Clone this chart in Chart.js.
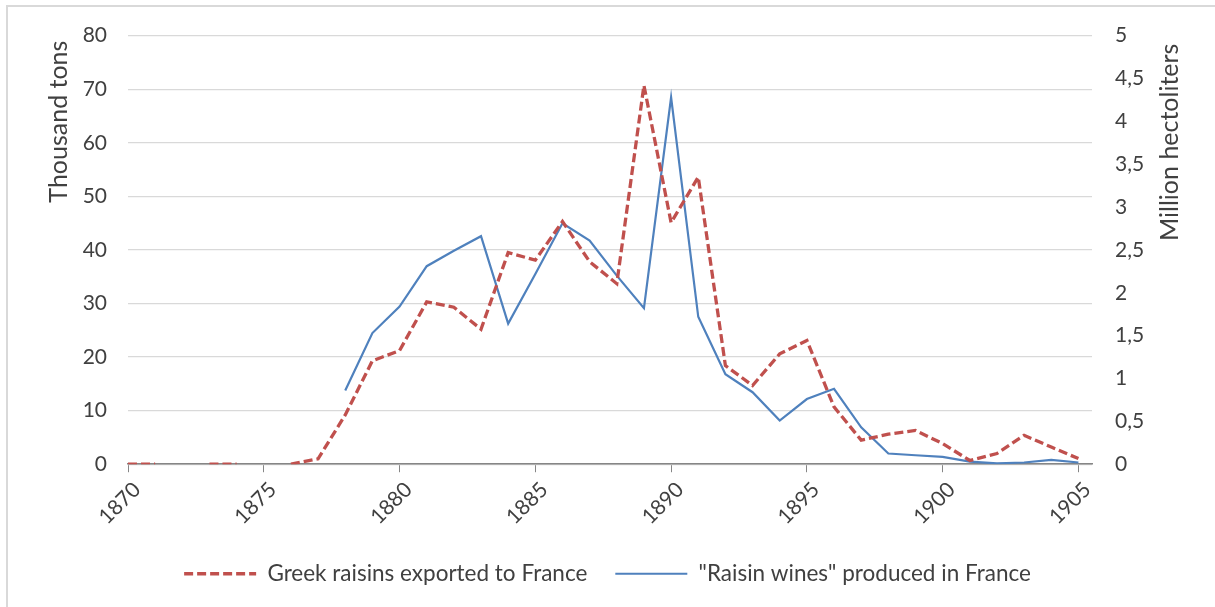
<!DOCTYPE html>
<html>
<head>
<meta charset="utf-8">
<script src="https://cdn.jsdelivr.net/npm/chart.js@4.4.0/dist/chart.umd.js"></script>
<style>
  html, body { margin: 0; padding: 0; background: #fff; overflow: hidden; }
  #wrap { position: relative; width: 1215px; height: 607px; }
  #frame { position: absolute; left: 6px; top: 5px; width: 1300px; height: 700px;
           border-left: 2px solid #d9d9d9; border-top: 2px solid #d9d9d9; pointer-events: none; }
  canvas { position: absolute; left: 0; top: 0; }
</style>
</head>
<body>
<div id="wrap">
  <canvas id="chart" width="1215" height="607"></canvas>
  <div id="frame"></div>
</div>
<script>
// Years on the x axis
const years = [1870, 1871, 1872, 1873, 1874, 1875, 1876, 1877, 1878, 1879,
  1880, 1881, 1882, 1883, 1884, 1885, 1886, 1887, 1888, 1889,
  1890, 1891, 1892, 1893, 1894, 1895, 1896, 1897, 1898, 1899,
  1900, 1901, 1902, 1903, 1904, 1905];

// Greek raisins exported to France (thousand tons, left axis)
const raisins = [0, 0, null, 0, 0, null, 0, 1, 9.2, 19.3,
  21.2, 30.3, 29.3, 25.2, 39.5, 38.1, 45.3, 37.8, 33.7, 70.7,
  45.1, 53.6, 18.4, 14.7, 20.6, 23.1, 10.7, 4.5, 5.6, 6.3,
  3.85, 0.7, 2.0, 5.4, 3.2, 1.05];

// "Raisin wines" produced in France (million hectoliters, right axis)
const wines = [null, null, null, null, null, null, null, null, 0.86, 1.53,
  1.84, 2.31, 2.49, 2.66, 1.64, 2.22, 2.81, 2.61, 2.2, 1.82,
  4.28, 1.72, 1.05, 0.84, 0.51, 0.76, 0.88, 0.43, 0.125, 0.105,
  0.085, 0.03, 0.01, 0.02, 0.05, 0.02];

// Tick labels
const xTicks = [1870, 1875, 1880, 1885, 1890, 1895, 1900, 1905];
const leftTicks = [0, 10, 20, 30, 40, 50, 60, 70, 80];
const rightTicks = [0, 0.5, 1, 1.5, 2, 2.5, 3, 3.5, 4, 4.5, 5];
const rightTickLabels = ['0', '0,5', '1', '1,5', '2', '2,5', '3', '3,5', '4', '4,5', '5'];

const leftTitle = 'Thousand tons';
const rightTitle = 'Million hectoliters';

const FONT = 'Lato, Calibri, "Liberation Sans", sans-serif';
const TEXT = '#404040';

// Axis titles read bottom-to-top on both sides, as in Excel
const axisTitles = {
  id: 'axisTitles',
  afterDraw(chart) {
    const { ctx, chartArea } = chart;
    const draw = (text, x, y) => {
      ctx.save();
      ctx.fillStyle = TEXT;
      ctx.font = '25px ' + FONT;
      ctx.textAlign = 'right';
      ctx.textBaseline = 'middle';
      ctx.translate(x, y);
      ctx.rotate(-Math.PI / 2);
      ctx.fillText(text, 0, 0);
      ctx.restore();
    };
    draw(leftTitle, 59, chartArea.top + 5);
    draw(rightTitle, chartArea.right + 78, chartArea.top + 8);
  }
};

// legend items keep the dataset dash (point style would drop it)
const legendLabels = chart => {
  const items = Chart.defaults.plugins.legend.labels.generateLabels(chart);
  items.forEach((item, i) => {
    const ds = chart.data.datasets[i];
    item.lineDash = ds.borderDash || [];
    item.lineWidth = ds.borderWidth;
    item.strokeStyle = ds.borderColor;
  });
  return items;
};

new Chart(document.getElementById('chart'), {
  type: 'line',
  data: {
    datasets: [{
      label: 'Greek raisins exported to France',
      data: years.map((y, i) => ({ x: y, y: raisins[i] })),
      borderColor: '#c0504d',
      backgroundColor: '#c0504d',
      borderWidth: 3.3,
      borderDash: [9, 4],
      pointRadius: 0,
      tension: 0,
      yAxisID: 'y'
    }, {
      label: '"Raisin wines" produced in France',
      data: years.map((y, i) => ({ x: y, y: wines[i] })),
      borderColor: '#4f81bd',
      backgroundColor: '#4f81bd',
      borderWidth: 2.2,
      pointRadius: 0,
      tension: 0,
      yAxisID: 'y2'
    }]
  },
  options: {
    responsive: false,
    animation: false,
    layout: { padding: { top: 34, left: 0, right: 0, bottom: 12 } },
    plugins: {
      legend: {
        position: 'bottom',
        labels: {
          usePointStyle: true,
          pointStyle: 'line',
          pointStyleWidth: 72,
          padding: 28,
          color: TEXT,
          font: { family: FONT, size: 22.5 },
          generateLabels: legendLabels
        }
      },
      tooltip: { enabled: false }
    },
    scales: {
      x: {
        type: 'linear',
        min: 1870,
        max: 1905.5,
        afterBuildTicks: scale => { scale.ticks = xTicks.map(v => ({ value: v })); },
        ticks: {
          color: TEXT,
          font: { family: FONT, size: 21 },
          maxRotation: 45,
          minRotation: 45,
          padding: 5,
          labelOffset: 9,
          callback: v => String(v)
        },
        grid: { drawOnChartArea: false, drawTicks: true, tickLength: 8, color: '#868686', lineWidth: 1 },
        border: { color: '#868686', width: 1.5 }
      },
      y: {
        position: 'left',
        min: 0,
        max: 80,
        afterBuildTicks: scale => { scale.ticks = leftTicks.map(v => ({ value: v })); },
        afterFit: scale => { scale.width = 128; },
        ticks: { color: TEXT, font: { family: FONT, size: 21 }, padding: 21 },
        grid: { color: '#d9d9d9', lineWidth: 1.3, drawTicks: false },
        border: { display: false }
      },
      y2: {
        position: 'right',
        min: 0,
        max: 5,
        afterBuildTicks: scale => { scale.ticks = rightTicks.map(v => ({ value: v })); },
        afterFit: scale => { scale.width = 123; },
        ticks: {
          color: TEXT,
          font: { family: FONT, size: 21 },
          padding: 23,
          callback: (v, i) => rightTickLabels[i]
        },
        grid: { drawOnChartArea: false, drawTicks: false },
        border: { display: false }
      }
    }
  },
  plugins: [axisTitles]
});
</script>
</body>
</html>
